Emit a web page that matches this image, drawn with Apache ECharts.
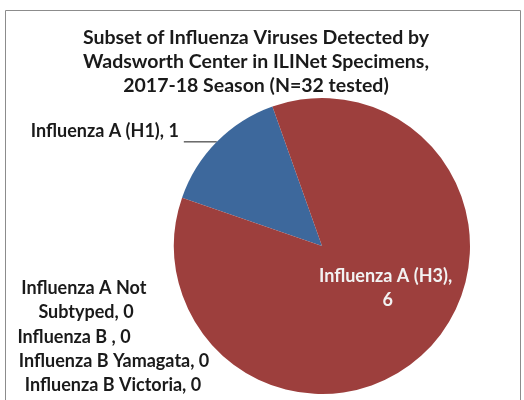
<!DOCTYPE html>
<html>
<head>
<meta charset="utf-8">
<script src="https://cdn.jsdelivr.net/npm/echarts@6/dist/echarts.min.js"></script>
<style>
  html, body { margin: 0; padding: 0; background: #fff; }
  #main { width: 524px; height: 400px; }
</style>
</head>
<body>
<div id="main"></div>
<script>
// data
var names = ['Influenza A (H1)', 'Influenza A (H3)', 'Influenza A Not Subtyped', 'Influenza B ', 'Influenza B Yamagata', 'Influenza B Victoria'];
var counts = [1, 6, 0, 0, 0, 0];
var colors = ['#3d689c', '#9d3f3d', '#9bbb59', '#8064a2', '#4bacc6', '#f79646'];

// where excel put the labels of the empty slices (center x, center y)
var zeroLabelPos = {2: [86, 300], 3: [74, 337], 4: [114, 361], 5: [113, 385]};

var chart = echarts.init(document.getElementById('main'));
window.addEventListener('resize', function () {
    chart.resize();
});

var font = 'Lato, "Open Sans", sans-serif';

var pieData = names.map(function (n, i) {
    var item = { name: n, value: counts[i], itemStyle: { color: colors[i] } };
    if (i === 1) {
        item.label = { position: 'inside', color: '#f2f2f2', width: 145, overflow: 'break', lineHeight: 24, offset: [11, -12] };
    } else if (counts[i] === 0) {
        item.label = { lineHeight: 24 };
        if (i === 2) {
            item.label.width = 135;
            item.label.overflow = 'break';
        }
        item.labelLine = { show: false };
    }
    return item;
});

var option = {
    backgroundColor: '#fff',
    animation: false,
    graphic: [{
        type: 'rect',
        shape: { x: 5.5, y: 10.5, width: 515, height: 400 },
        style: { fill: 'none', stroke: '#8c8c8c', lineWidth: 1 },
        silent: true
    }],
    title: {
        text: 'Subset of Influenza Viruses Detected by\nWadsworth Center in ILINet Specimens,\n2017-18 Season (N=32 tested)',
        left: 251,
        top: 21,
        textAlign: 'center',
        textStyle: {
            fontFamily: font,
            fontWeight: 'bold',
            fontSize: 19.5,
            lineHeight: 24,
            color: '#1a1a1a'
        }
    },
    series: [{
        type: 'pie',
        center: [322, 246],
        radius: 148,
        startAngle: 161,
        clockwise: true,
        stillShowZeroSum: true,
        minAngle: 0,
        avoidLabelOverlap: false,
        label: {
            show: true,
            formatter: '{b}, {c}',
            fontFamily: font,
            fontWeight: 'bold',
            fontSize: 18,
            color: '#1a1a1a'
        },
        labelLine: {
            show: true,
            length: 0,
            length2: 33,
            lineStyle: { color: '#1a1a1a', width: 1 }
        },
        labelLayout: function (params) {
            var p = zeroLabelPos[params.dataIndex];
            if (p) {
                return { x: p[0], y: p[1], align: 'center', verticalAlign: 'middle' };
            }
            if (params.dataIndex === 0) {
                // text sits a bit above its leader line
                return { dy: -11 };
            }
            return {};
        },
        emphasis: { disabled: true },
        data: pieData
    }]
};

chart.setOption(option);
</script>
</body>
</html>
